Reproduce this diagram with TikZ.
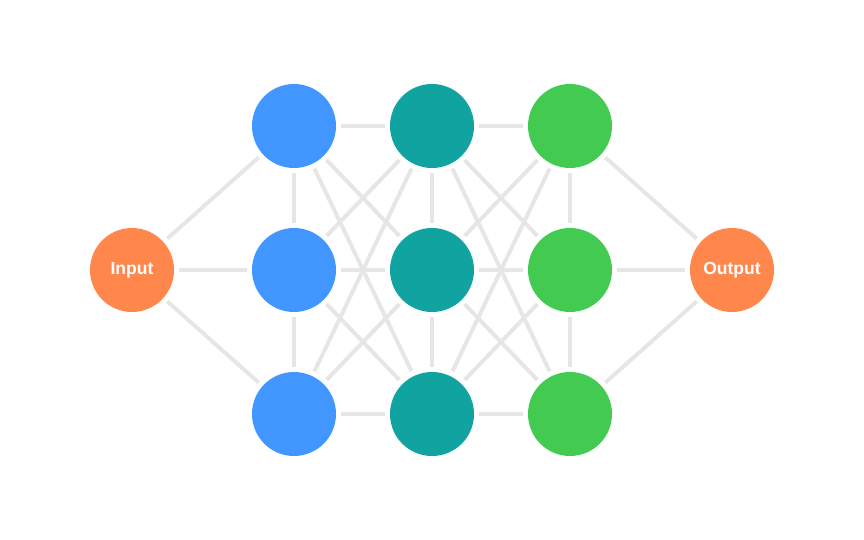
\documentclass[tikz,border=0pt]{standalone}
\usepackage{fontspec}
\setmainfont{Liberation Sans}
\usetikzlibrary{backgrounds}
\definecolor{edgegray}{HTML}{E6E6E6}
\definecolor{ioorange}{HTML}{FF874C}
\definecolor{l1blue}{HTML}{4296FF}
\definecolor{l2teal}{HTML}{10A39F}
\definecolor{l3green}{HTML}{43CB51}
\begin{document}
\begin{tikzpicture}[x=1pt,y=-1pt,
  neuron/.style={circle,minimum size=84pt,inner sep=0pt,draw=none},
  io/.style={neuron,fill=ioorange,text=white,font=\fontsize{17.5}{20}\selectfont\bfseries},
  conn/.style={draw=edgegray,line width=4pt,shorten >=5pt,shorten <=5pt}]
\useasboundingbox (0,0) rectangle (864,540);
\node[io] (in) at (132,270) {\raisebox{-1pt}{Input}};
\node[io] (out) at (732,270) {\raisebox{-1pt}{Output}};
\foreach \l/\x/\c in {1/294/l1blue,2/432/l2teal,3/570/l3green}{
  \foreach \r/\y in {1/126,2/270,3/414}{
    \node[neuron,fill=\c] (n\l\r) at (\x,\y) {};
  }
}
\begin{scope}[on background layer]
  \foreach \r in {1,2,3}{
    \draw[conn] (in) -- (n1\r);
    \draw[conn] (n3\r) -- (out);
    \foreach \s in {1,2,3}{
      \draw[conn] (n1\r) -- (n2\s);
      \draw[conn] (n2\r) -- (n3\s);
    }
  }
  \foreach \l in {1,2,3}{
    \draw[conn] (n\l1) -- (n\l2);
    \draw[conn] (n\l2) -- (n\l3);
  }
\end{scope}
\end{tikzpicture}
\end{document}
